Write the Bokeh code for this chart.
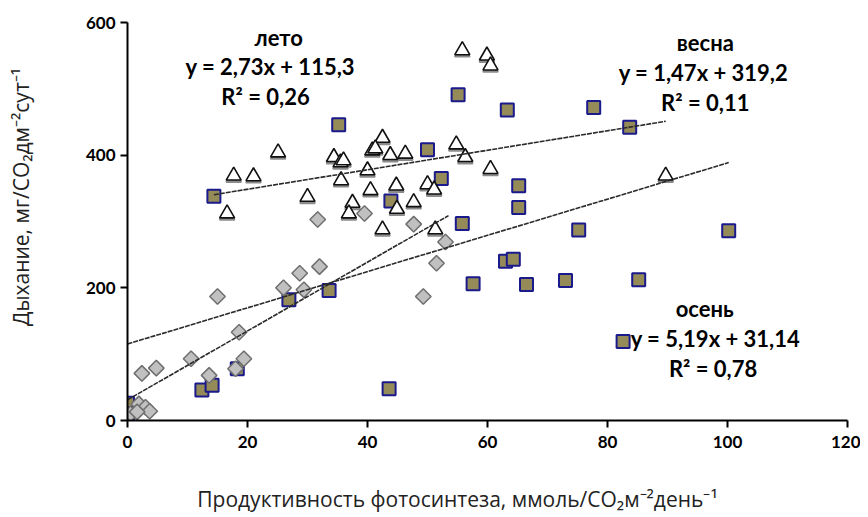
from bokeh.plotting import figure
from bokeh.models import Range1d, FixedTicker, ColumnDataSource
from bokeh.embed import file_html
from bokeh.resources import INLINE
from bokeh.core.properties import value
import math

# лето (squares)
summer_x = [0, 0, 12.4, 14.1, 18.3, 26.9, 33.6, 43.6, 14.4, 35.2, 55.1, 50.0, 52.3, 43.9,
            55.8, 63.3, 77.7, 83.7, 65.2, 65.2, 75.2, 63.0, 64.3, 57.6, 66.5, 73.0, 85.2,
            82.6, 100.2]
summer_y = [26, 10, 46, 53, 78, 182, 196, 48, 338, 446, 491, 408, 365, 331,
            297, 468, 472, 442, 354, 321, 287, 240, 243, 206, 205, 211, 212,
            119, 286]

# весна (triangles)
spring_x = [25.1, 17.7, 21.0, 16.6, 30.0, 34.4, 35.5, 36.0, 35.6, 55.8, 42.5, 40.8, 41.3,
            43.8, 46.3, 40.0, 40.5, 44.8, 50.0, 51.1, 54.8, 56.3, 37.5, 36.9, 47.7, 44.9,
            42.5, 51.3, 59.9, 60.5, 60.5, 89.7]
spring_y = [404, 369, 368, 312, 337, 397, 389, 392, 362, 558, 426, 407, 410,
            400, 402, 377, 347, 354, 356, 348, 416, 397, 328, 312, 329, 319,
            288, 288, 550, 535, 379, 369]

# осень (diamonds)
autumn_x = [0.5, 1.9, 3.0, 3.7, 1.6, 2.4, 4.8, 10.6, 13.6, 15.0, 18.0, 18.6, 19.4, 26.0,
            28.7, 29.4, 31.7, 32.0, 39.5, 47.7, 49.3, 51.5, 53.0]
autumn_y = [10, 25, 20, 14, 13, 71, 79, 93, 68, 187, 78, 133, 93, 200,
            222, 197, 303, 232, 312, 296, 187, 237, 269]

# trend lines: slope, intercept, x extent
summer_fit = (2.73, 115.3)
spring_fit = (1.47, 319.2)
autumn_fit = (5.19, 31.14)
summer_ext = [0, 100.2]
spring_ext = [14.4, 89.7]
autumn_ext = [0, 53.5]

x_ticks = [0, 20, 40, 60, 80, 100, 120]
y_ticks = [0, 200, 400, 600]

labels = ["лето", "y = 2,73x + 115,3", "R² = 0,26",
          "весна", "y = 1,47x + 319,2", "R² = 0,11",
          "осень", "y = 5,19x + 31,14", "R² = 0,78"]
label_x = [25.2, 23.8, 23.0, 96.3, 96.0, 96.3, 96.2, 98.0, 97.6]
label_y = [577, 534, 489, 570, 525, 479, 169, 124, 78]

x_title = "Продуктивность фотосинтеза, ммоль/CO₂м⁻²день⁻¹"
y_title = "Дыхание, мг/CO₂дм⁻²сут⁻¹"

NB = "\u00a0"

p = figure(width=860, height=515, x_range=Range1d(0, 120), y_range=Range1d(0, 600),
           output_backend="svg", toolbar_location=None,
           min_border_left=127, min_border_right=13, min_border_top=22, min_border_bottom=95)
p.outline_line_color = None
p.xgrid.visible = False
p.ygrid.visible = False
p.background_fill_color = "white"

for ax in (p.xaxis[0], p.yaxis[0]):
    ax.axis_line_width = 2
    ax.axis_line_color = "black"
    ax.major_tick_line_width = 2
    ax.major_tick_line_color = "black"
    ax.major_tick_in = 0
    ax.major_tick_out = 7
    ax.minor_tick_line_color = None
    ax.major_label_text_font = "Lato"
    ax.major_label_text_font_style = "bold"
    ax.major_label_text_font_size = "17px"
    ax.major_label_text_color = "black"
    ax.axis_label_text_font = "Open Sans"
    ax.axis_label_text_font_style = "normal"
    ax.axis_label_text_font_size = "21px"
    ax.axis_label_text_color = "#222222"

p.xaxis.ticker = FixedTicker(ticks=x_ticks)
p.yaxis.ticker = FixedTicker(ticks=y_ticks)
p.xaxis.major_label_standoff = 8
p.yaxis.major_label_standoff = 5
# trailing / leading no-break spaces shift the centred titles like the reference
p.xaxis.axis_label = x_title + NB * 11
p.yaxis.axis_label = NB * 9 + y_title
p.xaxis.axis_label_standoff = 34
p.yaxis.axis_label_standoff = 48

# markers
p.scatter(summer_x, summer_y, marker="square", size=13, fill_color="#958B58",
          line_color="#1A1A8C", line_width=2)
p.scatter(spring_x, [v - 3 for v in spring_y], marker="triangle", size=15, fill_color="#8C8C8C",
          line_color="#8C8C8C", line_width=1.8)
p.scatter(spring_x, spring_y, marker="triangle", size=15, fill_color="white",
          line_color="#111111", line_width=1.6)
p.scatter(autumn_x, autumn_y, marker="square", angle=math.pi / 4, size=11,
          fill_color="#C0C0C0", line_color="#6F6F6F", line_width=1.5)

# trend lines
for (k, b), ext in ((summer_fit, summer_ext), (spring_fit, spring_ext), (autumn_fit, autumn_ext)):
    ys = [k * x + b for x in ext]
    p.line(ext, ys, line_color="#2A2A2A", line_width=1.6, line_dash="5 1")

src = ColumnDataSource(dict(x=label_x, y=label_y, t=labels))
p.text(x="x", y="y", text="t", source=src, text_align="center", text_baseline="middle",
       text_font=value("Lato"), text_font_style="bold", text_font_size="22px",
       text_color="black")

open("out.html", "w").write(file_html(p, INLINE))
